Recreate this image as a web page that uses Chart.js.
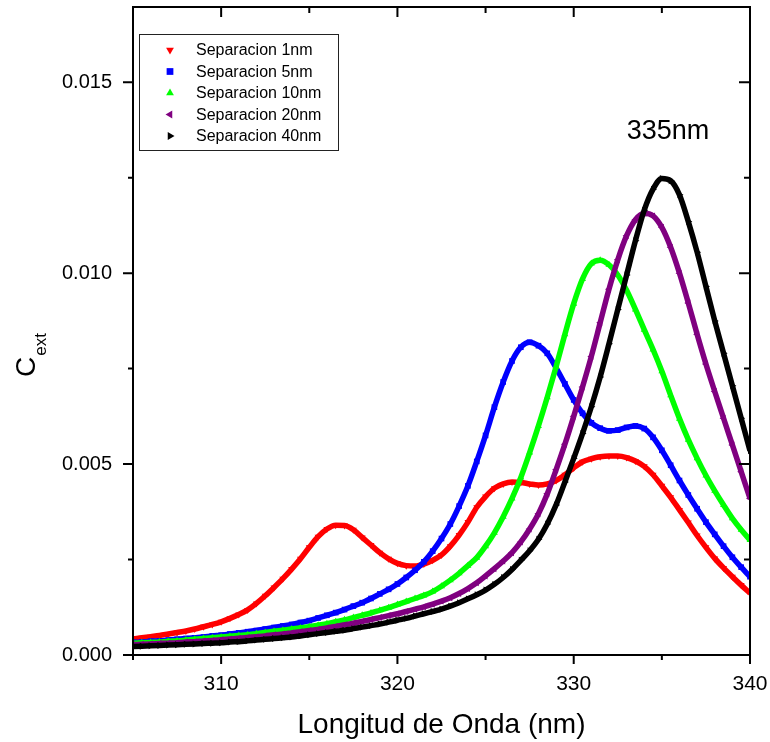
<!DOCTYPE html>
<html>
<head>
<meta charset="utf-8">
<script src="https://cdn.jsdelivr.net/npm/chart.js@4.4.0/dist/chart.umd.min.js"></script>
<style>
html,body{margin:0;padding:0;background:#ffffff;}
#wrap{width:770px;height:742px;position:relative;}
</style>
</head>
<body>
<div id="wrap"><canvas id="c" width="770" height="742"></canvas></div>
<script>
// ---------------- data ----------------
const wavelength = [
  305.0,305.5,306.0,306.5,307.0,307.5,308.0,308.5,309.0,309.5,
  310.0,310.5,311.0,311.5,312.0,312.5,313.0,313.5,314.0,314.5,
  315.0,315.5,316.0,316.5,317.0,317.5,318.0,318.5,319.0,319.5,
  320.0,320.5,321.0,321.5,322.0,322.5,323.0,323.5,324.0,324.5,
  325.0,325.5,326.0,326.5,327.0,327.5,328.0,328.5,329.0,329.5,
  330.0,330.5,331.0,331.5,332.0,332.5,333.0,333.5,334.0,334.5,
  335.0,335.5,336.0,336.5,337.0,337.5,338.0,338.5,339.0,339.5,
  340.0
];
const sep1nm = [
  0.00042,0.00045,0.00048,0.00051,0.00055,0.00059,0.00063,0.00068,0.00074,0.00080,
  0.00087,0.00096,0.00106,0.00118,0.00135,0.00155,0.00177,0.00200,0.00225,0.00252,
  0.00282,0.00310,0.00330,0.00340,0.00339,0.00328,0.00308,0.00288,0.00268,0.00252,
  0.00240,0.00234,0.00233,0.00238,0.00248,0.00262,0.00285,0.00314,0.00348,0.00387,
  0.00415,0.00437,0.00448,0.00453,0.00452,0.00448,0.00445,0.00448,0.00457,0.00472,
  0.00490,0.00506,0.00514,0.00519,0.00521,0.00521,0.00517,0.00508,0.00494,0.00472,
  0.00443,0.00413,0.00380,0.00347,0.00313,0.00282,0.00253,0.00228,0.00205,0.00183,
  0.00162
];
const sep5nm = [
  0.00033,0.00034,0.00036,0.00037,0.00039,0.00041,0.00043,0.00045,0.00047,0.00050,
  0.00052,0.00055,0.00058,0.00061,0.00064,0.00068,0.00072,0.00076,0.00080,0.00085,
  0.00090,0.00097,0.00104,0.00111,0.00119,0.00128,0.00137,0.00148,0.00160,0.00172,
  0.00186,0.00203,0.00222,0.00244,0.00272,0.00305,0.00343,0.00390,0.00443,0.00507,
  0.00575,0.00649,0.00715,0.00770,0.00806,0.00819,0.00810,0.00790,0.00752,0.00710,
  0.00668,0.00633,0.00608,0.00594,0.00587,0.00589,0.00596,0.00600,0.00593,0.00570,
  0.00536,0.00497,0.00457,0.00419,0.00383,0.00348,0.00316,0.00285,0.00256,0.00230,
  0.00205
];
const sep10nm = [
  0.00031,0.00032,0.00033,0.00034,0.00036,0.00037,0.00039,0.00041,0.00043,0.00045,
  0.00047,0.00049,0.00051,0.00053,0.00056,0.00059,0.00062,0.00065,0.00068,0.00071,
  0.00074,0.00078,0.00082,0.00087,0.00092,0.00098,0.00104,0.00110,0.00117,0.00124,
  0.00132,0.00140,0.00148,0.00156,0.00166,0.00180,0.00196,0.00214,0.00234,0.00255,
  0.00285,0.00320,0.00362,0.00410,0.00465,0.00530,0.00600,0.00675,0.00755,0.00840,
  0.00920,0.00985,0.01025,0.01034,0.01022,0.00995,0.00955,0.00905,0.00852,0.00800,
  0.00743,0.00680,0.00619,0.00564,0.00515,0.00470,0.00430,0.00393,0.00358,0.00328,
  0.00301
];
const sep20nm = [
  0.00027,0.00028,0.00029,0.00030,0.00031,0.00032,0.00034,0.00035,0.00037,0.00038,
  0.00040,0.00042,0.00044,0.00046,0.00048,0.00050,0.00053,0.00055,0.00058,0.00061,
  0.00064,0.00067,0.00071,0.00075,0.00079,0.00083,0.00088,0.00093,0.00098,0.00103,
  0.00108,0.00114,0.00120,0.00126,0.00133,0.00141,0.00150,0.00161,0.00174,0.00189,
  0.00207,0.00226,0.00246,0.00268,0.00296,0.00330,0.00370,0.00422,0.00485,0.00552,
  0.00625,0.00702,0.00782,0.00870,0.00958,0.01035,0.01098,0.01140,0.01157,0.01150,
  0.01120,0.01068,0.01000,0.00922,0.00840,0.00762,0.00690,0.00620,0.00550,0.00480,
  0.00410
];
const sep40nm = [
  0.00022,0.00023,0.00024,0.00025,0.00026,0.00027,0.00028,0.00029,0.00030,0.00031,
  0.00032,0.00034,0.00035,0.00037,0.00039,0.00041,0.00043,0.00045,0.00047,0.00050,
  0.00053,0.00056,0.00059,0.00062,0.00065,0.00069,0.00073,0.00077,0.00081,0.00086,
  0.00091,0.00096,0.00102,0.00108,0.00114,0.00120,0.00128,0.00137,0.00147,0.00158,
  0.00170,0.00185,0.00203,0.00224,0.00248,0.00273,0.00303,0.00343,0.00393,0.00453,
  0.00515,0.00580,0.00650,0.00728,0.00815,0.00905,0.00995,0.01085,0.01165,0.01220,
  0.01248,0.01242,0.01205,0.01135,0.01055,0.00965,0.00875,0.00790,0.00705,0.00620,
  0.00535
];
const seriesLabels = ['Separacion 1nm','Separacion 5nm','Separacion 10nm','Separacion 20nm','Separacion 40nm'];
const seriesValues = [sep1nm, sep5nm, sep10nm, sep20nm, sep40nm];
const seriesColors = ['#ff0000','#0000ff','#00ff00','#800080','#000000'];
const seriesMarkers = ['triangle','rect','triangle','triangle','triangle'];
const seriesRotations = [180, 0, 0, 270, 90];

const xTickValues = [305,310,315,320,325,330,335,340];
const xMajorTicks = [310,320,330,340];
const yTickValues = [0,0.0025,0.005,0.0075,0.01,0.0125,0.015];
const yMajorTicks = [0,0.005,0.01,0.015];
const xMin = 305, xMax = 340, yMin = 0, yMax = 0.01697;

const xTitle = 'Longitud de Onda (nm)';
const yTitleMain = 'C';
const yTitleSub = 'ext';
const peakText = '335nm';
const peakTextX = 335.35;
const peakTextY = 0.0137;

// ---------------- chart ----------------
const FONT = "'Liberation Sans', Arial, Helvetica, sans-serif";

const datasets = seriesValues.map((vals, i) => ({
  label: seriesLabels[i],
  data: wavelength.map((w, j) => ({x: w, y: vals[j]})),
  borderColor: seriesColors[i],
  backgroundColor: seriesColors[i],
  pointBackgroundColor: seriesColors[i],
  pointBorderColor: seriesColors[i],
  pointBorderWidth: 0,
  pointStyle: seriesMarkers[i],
  rotation: seriesRotations[i],
  pointRadius: 4,
  borderWidth: 5.5,
  cubicInterpolationMode: 'monotone',
  fill: false,
  order: seriesValues.length - i
}));

function drawMarker(ctx, style, rot, x, y, r) {
  ctx.save();
  ctx.translate(x, y);
  ctx.rotate(rot * Math.PI / 180);
  ctx.beginPath();
  if (style === 'rect') {
    ctx.rect(-r * 0.75, -r * 0.75, r * 1.5, r * 1.5);
  } else {
    ctx.moveTo(0, -r);
    ctx.lineTo(r * 0.866, r * 0.5);
    ctx.lineTo(-r * 0.866, r * 0.5);
    ctx.closePath();
  }
  ctx.fill();
  ctx.restore();
}

const framePlugin = {
  id: 'frame',
  afterDraw(chart) {
    const ctx = chart.ctx;
    const a = chart.chartArea;
    const xs = chart.scales.x, ys = chart.scales.y;
    ctx.save();
    ctx.strokeStyle = '#000';
    ctx.lineWidth = 2;
    ctx.strokeRect(a.left, a.top, a.right - a.left, a.bottom - a.top);
    ctx.lineWidth = 2;
    ctx.beginPath();
    xTickValues.forEach(v => {
      const px = xs.getPixelForValue(v);
      const len = xMajorTicks.includes(v) ? 9 : 5;
      ctx.moveTo(px, a.bottom); ctx.lineTo(px, a.bottom + len);
      ctx.moveTo(px, a.top); ctx.lineTo(px, a.top + len + 1);
    });
    yTickValues.forEach(v => {
      const py = ys.getPixelForValue(v);
      const len = yMajorTicks.includes(v) ? 10 : 5;
      ctx.moveTo(a.left, py); ctx.lineTo(a.left - len, py);
      ctx.moveTo(a.right, py); ctx.lineTo(a.right - len - 1, py);
    });
    ctx.stroke();

    // legend
    const lx = 139, ly = 34, lw = 199, lh = 116;
    ctx.fillStyle = '#fff';
    ctx.fillRect(lx, ly, lw, lh);
    ctx.lineWidth = 1;
    ctx.strokeStyle = '#222';
    ctx.strokeRect(lx + 0.5, ly + 0.5, lw, lh);
    ctx.font = '16px ' + FONT;
    ctx.textBaseline = 'middle';
    ctx.textAlign = 'left';
    seriesLabels.forEach((lab, i) => {
      const cy = ly + 16 + i * 21.5;
      ctx.fillStyle = seriesColors[i];
      drawMarker(ctx, seriesMarkers[i], seriesRotations[i], lx + 31, cy, 4.5);
      ctx.fillStyle = '#000';
      ctx.fillText(lab, lx + 57, cy + 1);
    });

    // peak annotation
    ctx.font = '27px ' + FONT;
    ctx.textAlign = 'center';
    ctx.textBaseline = 'middle';
    ctx.fillStyle = '#000';
    ctx.fillText(peakText, xs.getPixelForValue(peakTextX), ys.getPixelForValue(peakTextY));

    // y title with subscript
    ctx.save();
    ctx.translate(35, 377);
    ctx.rotate(-Math.PI / 2);
    ctx.textAlign = 'left';
    ctx.textBaseline = 'alphabetic';
    ctx.font = '28px ' + FONT;
    ctx.fillText(yTitleMain, 0, 0);
    const w = ctx.measureText(yTitleMain).width;
    ctx.font = '17px ' + FONT;
    ctx.fillText(yTitleSub, w + 1, 11);
    ctx.restore();
    ctx.restore();
  }
};

new Chart(document.getElementById('c'), {
  type: 'line',
  data: { datasets },
  plugins: [framePlugin],
  options: {
    responsive: false,
    animation: false,
    devicePixelRatio: 1,
    layout: { padding: { left: 0, right: 20, top: 7, bottom: 0 } },
    plugins: { legend: { display: false }, tooltip: { enabled: false } },
    scales: {
      x: {
        type: 'linear',
        min: xMin, max: xMax,
        grid: { display: false, drawTicks: false },
        border: { display: false },
        ticks: {
          stepSize: 5,
          padding: 17,
          color: '#000',
          font: { family: FONT, size: 21 },
          maxRotation: 0,
          autoSkip: false,
          callback: v => (xMajorTicks.includes(v) ? String(v) : '')
        },
        title: {
          display: true, text: xTitle, color: '#000',
          font: { family: FONT, size: 28 },
          padding: { top: 0, bottom: 0 }
        },
        afterFit: s => { s.height = 87; s.paddingLeft = 0; s.paddingRight = 0; }
      },
      y: {
        min: yMin, max: yMax,
        grid: { display: false, drawTicks: false },
        border: { display: false },
        ticks: {
          stepSize: 0.0025,
          padding: 21,
          color: '#000',
          font: { family: FONT, size: 20 },
          autoSkip: false,
          callback: v => (yMajorTicks.some(t => Math.abs(t - v) < 1e-9) ? v.toFixed(3) : '')
        },
        afterFit: s => { s.width = 133; s.paddingTop = 0; s.paddingBottom = 0; }
      }
    }
  }
});
</script>
</body>
</html>
